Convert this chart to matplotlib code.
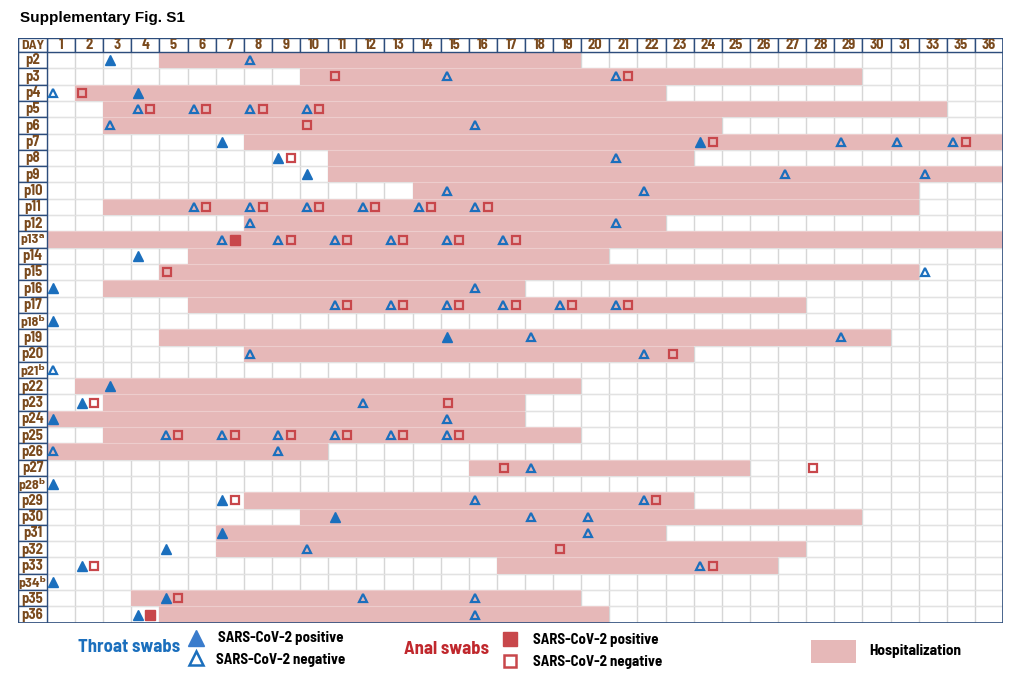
import matplotlib
matplotlib.use("Agg")
import matplotlib.pyplot as plt
from matplotlib.patches import Rectangle

# ---------------- data ----------------
day_labels = [str(d) for d in range(1, 32)] + ["33", "35", "36"]

patients = ["p2", "p3", "p4", "p5", "p6", "p7", "p8", "p9", "p10", "p11", "p12",
            "p13", "p14", "p15", "p16", "p17", "p18", "p19", "p20", "p21", "p22",
            "p23", "p24", "p25", "p26", "p27", "p28", "p29", "p30", "p31", "p32",
            "p33", "p34", "p35", "p36"]
row_labels = ["p2", "p3", "p4", "p5", "p6", "p7", "p8", "p9", "p10", "p11", "p12",
              "p13\u1d43", "p14", "p15", "p16", "p17", "p18\u1d47", "p19", "p20", "p21\u1d47", "p22",
              "p23", "p24", "p25", "p26", "p27", "p28\u1d47", "p29", "p30", "p31", "p32",
              "p33", "p34\u1d47", "p35", "p36"]

# hospitalization first / last day (None = not hospitalized in the window)
hosp_start = [5, 10, 2, 3, 3, 8, 11, 11, 14, 3, 8, 1, 6, 5, 3, 6, None, 5, 8, None, 2,
              3, 1, 3, 1, 16, None, 8, 10, 7, 7, 17, None, 4, 5]
hosp_end = [19, 29, 22, 33, 24, 36, 23, 36, 31, 31, 22, 36, 20, 31, 17, 27, None, 30, 23, None, 19,
            17, 17, 19, 10, 25, None, 23, 29, 22, 27, 26, None, 19, 20]

throat_pos = {"p2": [3], "p4": [4], "p7": [7, 24], "p8": [9], "p9": [10], "p14": [4],
              "p16": [1], "p18": [1], "p19": [15], "p22": [3], "p23": [2], "p24": [1],
              "p28": [1], "p29": [7], "p30": [11], "p31": [7], "p32": [5], "p33": [2],
              "p34": [1], "p35": [5], "p36": [4]}
throat_neg = {"p2": [8], "p3": [15, 21], "p4": [1], "p5": [4, 6, 8, 10], "p6": [3, 16],
              "p7": [29, 31, 35], "p8": [21], "p9": [27, 33], "p10": [15, 22],
              "p11": [6, 8, 10, 12, 14, 16], "p12": [8, 21], "p13": [7, 9, 11, 13, 15, 17],
              "p15": [33], "p16": [16], "p17": [11, 13, 15, 17, 19, 21], "p19": [18, 29],
              "p20": [8, 22], "p21": [1], "p23": [12], "p24": [15],
              "p25": [5, 7, 9, 11, 13, 15], "p26": [1, 9], "p27": [18], "p29": [16, 22],
              "p30": [18, 20], "p31": [20], "p32": [10], "p33": [24], "p35": [12, 16],
              "p36": [16]}
anal_pos = {"p13": [7], "p36": [4]}
anal_neg = {"p3": [11, 21], "p4": [2], "p5": [4, 6, 8, 10], "p6": [10], "p7": [24, 35],
            "p8": [9], "p11": [6, 8, 10, 12, 14, 16], "p13": [9, 11, 13, 15, 17], "p15": [5],
            "p17": [11, 13, 15, 17, 19, 21], "p20": [23], "p23": [2, 15],
            "p25": [5, 7, 9, 11, 13, 15], "p27": [17, 28], "p29": [7, 22], "p32": [19],
            "p33": [2, 24], "p35": [5]}

# ---------------- style ----------------
PINK = "#e6b8b8"
BLUE = "#1b6fbd"
RED = "#c8474b"
NAVY = "#2d4d7c"
BROWN = "#7a4a1d"
GRID = "#d6d6d6"
NARROW = ["Barlow Semi Condensed", "DejaVu Sans"]
SANS = ["Liberation Sans", "DejaVu Sans"]

W, H = 1020, 679
fig = plt.figure(figsize=(W / 100, H / 100), dpi=100)

x0, x1, y0, y1 = 18, 1003, 38, 622.7
ncol, nrow = len(day_labels), len(patients)
lab_w = 29 / 28.1
hdr_h = 14 / 16.3
ax = fig.add_axes([x0 / W, 1 - y1 / H, (x1 - x0) / W, (y1 - y0) / H])
ax.set_xlim(-lab_w, ncol)
ax.set_ylim(nrow, -hdr_h)
ax.axis("off")

col_of = {int(d): i for i, d in enumerate(day_labels)}
row_of = {p: i for i, p in enumerate(patients)}

# grid
for c in range(ncol + 1):
    ax.plot([c, c], [0, nrow], color=GRID, lw=1.0, zorder=1)
for r in range(nrow + 1):
    ax.plot([0, ncol], [r, r], color=GRID, lw=1.0, zorder=1)

# hospitalization bars
rows, lefts, widths = [], [], []
for i, (s, e) in enumerate(zip(hosp_start, hosp_end)):
    if s is None:
        continue
    rows.append(i + 0.5)
    lefts.append(col_of[s])
    widths.append(col_of[e] + 1 - col_of[s])
ax.barh(rows, widths, left=lefts, height=1.0, color=PINK, zorder=2, linewidth=0)
for r in range(1, nrow):
    ax.plot([0, ncol], [r, r], color="white", lw=0.8, alpha=0.3, zorder=2.5)

# header and label column
for c, lab in enumerate(day_labels):
    ax.add_patch(Rectangle((c, -hdr_h), 1, hdr_h, facecolor="white", edgecolor=NAVY, lw=1.0, zorder=3))
    ax.text(c + 0.5, -hdr_h / 2, lab, ha="center", va="center", color=BROWN,
            fontsize=10.5, fontweight="bold", family=NARROW, zorder=4)
ax.add_patch(Rectangle((-lab_w, -hdr_h), lab_w, hdr_h, facecolor="white", edgecolor=NAVY, lw=1.0, zorder=3))
ax.text(-lab_w / 2, -hdr_h / 2, "DAY", ha="center", va="center", color=BROWN,
        fontsize=10, fontweight="bold", family=NARROW, zorder=4)
for r, lab in enumerate(row_labels):
    ax.add_patch(Rectangle((-lab_w, r), lab_w, 1, facecolor="white", edgecolor=NAVY, lw=1.0, zorder=3))
    ax.text(-lab_w / 2, r + 0.52, lab, ha="center", va="center", color=BROWN,
            fontsize=10.5 if len(lab) < 4 else 10, fontweight="bold", family=NARROW, zorder=4)
ax.plot([-lab_w, -lab_w], [-hdr_h, nrow], color=NAVY, lw=1.6, zorder=5)
ax.plot([ncol, ncol], [-hdr_h, nrow], color=NAVY, lw=1.2, zorder=5)
ax.plot([-lab_w, ncol], [nrow, nrow], color=NAVY, lw=1.2, zorder=5)
ax.plot([-lab_w, ncol], [-hdr_h, -hdr_h], color=NAVY, lw=1.2, zorder=5)


# markers
def has(dct, p, d):
    return d in dct.get(p, [])


def positions(dct, kind):
    xs, ys = [], []
    for p, days in dct.items():
        for d in days:
            c = col_of[d]
            if kind == "throat":
                dx = -0.27
            else:
                paired = has(throat_pos, p, d) or has(throat_neg, p, d)
                dx = 0.17 if paired else -0.24
            xs.append(c + 0.5 + dx)
            ys.append(row_of[p] + 0.5)
    return xs, ys


xs, ys = positions(throat_pos, "throat")
ax.plot(xs, ys, ls="none", marker="^", ms=6.5, mfc=BLUE, mec=BLUE, mew=1.0, zorder=6)
xs, ys = positions(throat_neg, "throat")
ax.plot(xs, ys, ls="none", marker="^", ms=6.0, mfc="none", mec=BLUE, mew=1.6, zorder=6)
xs, ys = positions(anal_pos, "anal")
ax.plot(xs, ys, ls="none", marker="s", ms=6.5, mfc=RED, mec=RED, mew=1.0, zorder=6)
xs, ys = positions(anal_neg, "anal")
ax.plot(xs, ys, ls="none", marker="s", ms=6.0, mfc="none", mec=RED, mew=1.6, zorder=6)

# title
fig.text(20 / W, 1 - 18 / H, "Supplementary Fig. S1", ha="left", va="center",
         fontsize=11, fontweight="bold", family=SANS)

# legend (pixel coordinate overlay)
lg = fig.add_axes([0, 0, 1, 1])
lg.set_xlim(0, W)
lg.set_ylim(H, 0)
lg.axis("off")
lg.text(129, 648, "Throat swabs", ha="center", va="center", color=BLUE, fontsize=13.3,
        fontweight="bold", family=NARROW)
lg.plot([196], [638], marker="^", ms=11, mfc="#3a7ccc", mec="#3a7ccc", ls="none")
lg.plot([196], [658], marker="^", ms=10, mfc="none", mec=BLUE, mew=1.8, ls="none")
lg.text(218, 638, "SARS-CoV-2 positive", ha="left", va="center", fontsize=10.7,
        fontweight="bold", family=NARROW)
lg.text(216, 660, "SARS-CoV-2 negative", ha="left", va="center", fontsize=10.7,
        fontweight="bold", family=NARROW)
lg.text(447, 650, "Anal swabs", ha="center", va="center", color="#c0282d", fontsize=13.3,
        fontweight="bold", family=NARROW)
lg.plot([510], [639], marker="s", ms=9.5, mfc=RED, mec=RED, ls="none")
lg.plot([510], [661], marker="s", ms=9.0, mfc="none", mec=RED, mew=1.8, ls="none")
lg.text(533, 640, "SARS-CoV-2 positive", ha="left", va="center", fontsize=10.7,
        fontweight="bold", family=NARROW)
lg.text(533, 662, "SARS-CoV-2 negative", ha="left", va="center", fontsize=10.7,
        fontweight="bold", family=NARROW)
lg.add_patch(Rectangle((811, 640), 45, 23, facecolor=PINK, edgecolor="none"))
lg.text(869, 651, "Hospitalization", ha="left", va="center", fontsize=11,
        fontweight="bold", family=NARROW)

fig.savefig("out.png", dpi=100)
